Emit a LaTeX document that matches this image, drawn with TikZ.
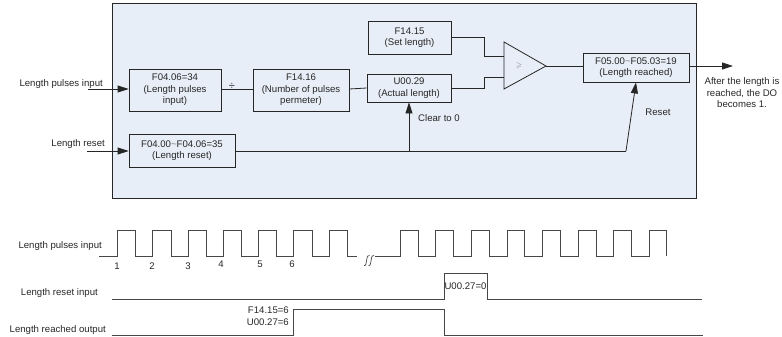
\documentclass[tikz,border=0pt]{standalone}
\usepackage{fontspec}
\usepackage{amssymb}
\setmainfont{Liberation Sans}
\usetikzlibrary{arrows.meta}
\definecolor{panel}{HTML}{E8EEF7}
\definecolor{ink}{HTML}{262626}
\begin{document}
\begin{tikzpicture}[x=1pt,y=-1pt,
  every node/.style={font=\fontsize{9.6}{11.5}\selectfont, text=ink},
  blk/.style={draw=ink, line width=0.8pt, fill=panel, inner sep=0pt, align=center},
  wire/.style={draw=ink, line width=0.8pt},
  arr/.style={wire, -{Triangle[length=11pt,width=7pt]}},
  sig/.style={draw=ink!85, line width=0.8pt},
  lbl/.style={inner sep=0pt}]
\useasboundingbox (0,0) rectangle (782,337);
% main panel
\draw[draw=ink, line width=0.8pt, fill=panel] (112,3) rectangle (696,198);
% blocks
\node[blk, minimum width=92pt, minimum height=42pt] (b1) at (175,90) {F04.06=34\\(Length pulses\\input)};
\node[blk, minimum width=96pt, minimum height=42pt] (b2) at (301,90) {F14.16\\(Number of pulses\\permeter)};
\node[blk, minimum width=84pt, minimum height=28pt] (b3) at (409,88) {U00.29\\(Actual length)};
\node[blk, minimum width=83pt, minimum height=33pt] (b4) at (409.5,37.5) {F14.15\\(Set length)};
\node[blk, minimum width=106pt, minimum height=33pt] (b5) at (182,150.5) {F04.00{\color{gray}\char"007E}F04.06=35\\(Length reset)};
\node[blk, minimum width=106pt, minimum height=29pt] (b6) at (636,67.5) {F05.00{\color{gray}\char"007E}F05.03=19\\(Length reached)};
% comparator
\coordinate (ci1) at (504,56);
\coordinate (ci2) at (504,77);
\coordinate (ctip) at (546,66);
\draw[wire, fill=panel] (504,42) -- (ctip) -- (504,89) -- cycle;
\node[lbl, text=gray] (cge) at (519,66) {\scriptsize$\geqslant$};
% inputs
\node[lbl, anchor=east] (tin1) at (103,84) {Length pulses input};
\coordinate (in1) at (88,89);
\draw[arr] (in1) -- (b1.west |- in1);
\node[lbl, anchor=east] (tin2) at (105,144) {Length reset};
\coordinate (in2) at (87,151);
\draw[arr] (in2) -- (b5.west |- in2);
% connections
\draw[wire] (b1.east |- in1) -- (b2.west |- in1);
\node[lbl] (div) at (232,86) {\fontsize{11}{11}\selectfont ÷};
\draw[wire] (b2.east |- in1) -- (b3.west);
\draw[wire] (b4.east) -- (484,37.5) -- (484,56) -- (ci1);
\draw[wire] (b3.east) -- (484,88) -- (484,77) -- (ci2);
\draw[wire] (ctip) -- (b6.west |- ctip);
\coordinate (out) at (733,66);
\draw[arr] (b6.east |- ctip) -- (out);
\node[lbl, align=center] (tout) at (742,93) {After the length is\\reached, the DO\\becomes 1.};
\coordinate (rk) at (626,151);
\coordinate (cl) at (409,151);
\draw[wire] (b5.east |- in2) -- (rk);
\draw[arr] (rk) -- (b6.south);
\draw[arr] (cl) -- (b3.south);
\node[lbl, anchor=west] (tclr) at (418,118) {Clear to 0};
\node[lbl] (trst) at (658,112) {Reset};
% timing diagram
\node[lbl, anchor=east] (t1) at (102,246) {Length pulses input};
\draw[sig] (99,256) -- (117,256)
  -- (117,230) -- (135,230) -- (135,256) -- (152,256)
  -- (152,230) -- (171,230) -- (171,256) -- (188,256)
  -- (188,230) -- (206,230) -- (206,256) -- (223,256)
  -- (223,230) -- (241,230) -- (241,256) -- (258,256)
  -- (258,230) -- (276,230) -- (276,256) -- (293,256)
  -- (293,230) -- (312,230) -- (312,256) -- (329,256)
  -- (329,230) -- (347,230) -- (347,256) -- (357,256);
\draw[sig, line width=0.7pt] (364,265.5) .. controls (366,266.5) and (366.3,262) .. (366.7,260) .. controls (367.2,256) and (368,255) .. (369.5,255.5);
\draw[sig, line width=0.7pt] (368.5,265.5) .. controls (370.5,266.5) and (370.8,262) .. (371.2,260) .. controls (371.7,256) and (372.5,255) .. (374,255.5);
\draw[sig] (375,256) -- (400,256)
  -- (400,230) -- (418,230) -- (418,256) -- (435,256)
  -- (435,230) -- (453,230) -- (453,256) -- (471,256)
  -- (471,230) -- (489,230) -- (489,256) -- (507,256)
  -- (507,230) -- (524,230) -- (524,256) -- (542,256)
  -- (542,230) -- (560,230) -- (560,256) -- (578,256)
  -- (578,230) -- (596,230) -- (596,256) -- (613,256)
  -- (613,230) -- (631,230) -- (631,256) -- (649,256)
  -- (649,230) -- (666,230) -- (666,256);
\node[lbl] (n1) at (117,266) {1};
\node[lbl] (n2) at (152,266) {2};
\node[lbl] (n3) at (188,266) {3};
\node[lbl] (n4) at (221,264) {4};
\node[lbl] (n5) at (260,264) {5};
\node[lbl] (n6) at (292,264) {6};
\node[lbl, anchor=east] (t2) at (98,293) {Length reset input};
\draw[sig] (112,299) -- (444,299) -- (444,273) -- (487,273) -- (487,299) -- (702,299);
\node[lbl] (u0) at (465.5,286) {U00.27=0};
\node[lbl, anchor=east] (t3) at (106,330) {Length reached output};
\draw[sig] (112,335) -- (293,335) -- (293,309) -- (444,309) -- (444,335) -- (703,335);
\node[lbl, anchor=east] (f6) at (289,310) {F14.15=6};
\node[lbl, anchor=east] (u6) at (289,322) {U00.27=6};
\end{tikzpicture}
\end{document}
